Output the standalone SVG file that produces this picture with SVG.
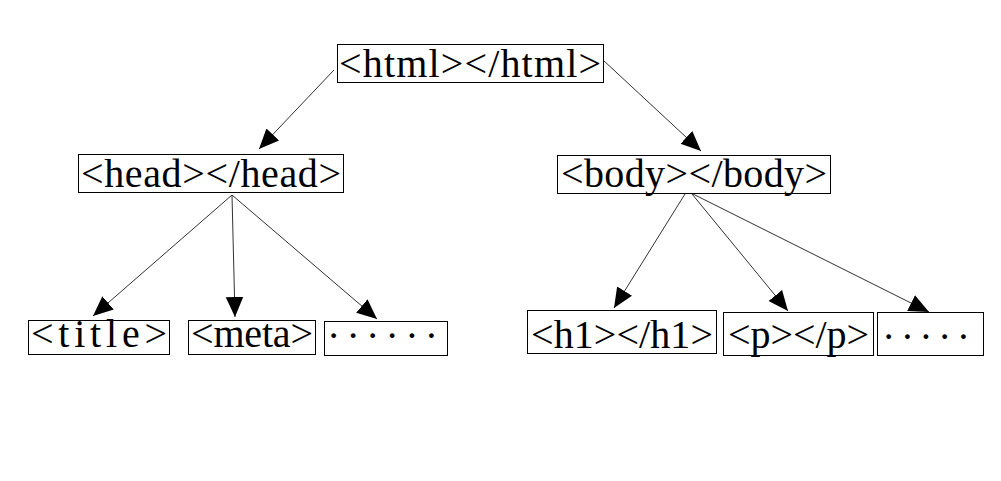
<svg xmlns="http://www.w3.org/2000/svg" width="1001" height="481" viewBox="0 0 1001 481">
<style>
.box{fill:#fff;stroke:#000;stroke-width:1}
.t{font-family:"Liberation Serif","DejaVu Serif",serif;font-size:40px;fill:#000}
.edge{stroke:#333;stroke-width:1;fill:none;marker-end:url(#ah)}
</style>
<defs>
<marker id="ah" markerUnits="userSpaceOnUse" markerWidth="20" markerHeight="20" viewBox="0 0 16 14" refX="16" refY="7" orient="auto">
<path d="M0,0 L16,7 L0,14 Z" fill="#000"/>
</marker>
</defs>
<rect width="1001" height="481" fill="#fff"/>
<g id="connectors">
<line class="edge" x1="334" y1="70" x2="259" y2="149"/>
<line class="edge" x1="603" y1="60" x2="701" y2="151"/>
<line class="edge" x1="232" y1="195" x2="93" y2="316"/>
<line class="edge" x1="232" y1="195" x2="235" y2="317"/>
<line class="edge" x1="232" y1="195" x2="377" y2="319"/>
<line class="edge" x1="685" y1="194" x2="614" y2="308"/>
<line class="edge" x1="692" y1="194" x2="788" y2="311"/>
<line class="edge" x1="693" y1="194" x2="929" y2="312"/>
</g>
<g id="html">
<rect class="box" x="337.5" y="44.5" width="266" height="38"/>
<text class="t" x="339" y="77" textLength="262" lengthAdjust="spacing">&lt;html&gt;&lt;/html&gt;</text>
</g>
<g id="head">
<rect class="box" x="78.5" y="154.5" width="265" height="38"/>
<text class="t" x="81" y="187" textLength="260" lengthAdjust="spacing">&lt;head&gt;&lt;/head&gt;</text>
</g>
<g id="body">
<rect class="box" x="557.5" y="155.5" width="273" height="38"/>
<text class="t" x="561" y="187" textLength="266" lengthAdjust="spacing">&lt;body&gt;&lt;/body&gt;</text>
</g>
<g id="title">
<rect class="box" x="28.5" y="320.5" width="141" height="34"/>
<text class="t" x="31" y="347" textLength="136" lengthAdjust="spacing">&lt;title&gt;</text>
</g>
<g id="meta">
<rect class="box" x="188.5" y="320.5" width="127" height="34"/>
<text class="t" x="191" y="347" textLength="122" lengthAdjust="spacing">&lt;meta&gt;</text>
</g>
<g id="head-more">
<rect class="box" x="324.5" y="321.5" width="123" height="34"/>
<text class="t" x="327" y="349" textLength="111" lengthAdjust="spacing">······</text>
</g>
<g id="h1">
<rect class="box" x="527.5" y="310.5" width="189" height="43"/>
<text class="t" x="531" y="348" textLength="182" lengthAdjust="spacing">&lt;h1&gt;&lt;/h1&gt;</text>
</g>
<g id="p">
<rect class="box" x="723.5" y="312.5" width="150" height="43"/>
<text class="t" x="728" y="348" textLength="141" lengthAdjust="spacing">&lt;p&gt;&lt;/p&gt;</text>
</g>
<g id="body-more">
<rect class="box" x="877.5" y="312.5" width="106" height="43"/>
<text class="t" x="882" y="350" textLength="88" lengthAdjust="spacing">·····</text>
</g>
</svg>
